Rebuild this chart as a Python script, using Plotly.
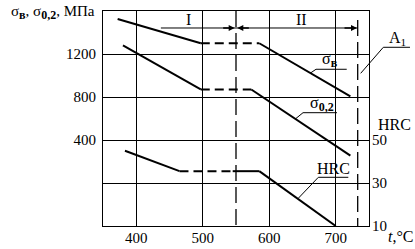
import plotly.graph_objects as go

# ---- data ----
x_ticks = [400, 500, 600, 700]
mpa_ticks = [0, 400, 800, 1200]
mpa_tick_text = ["", "400", "800", "1200"]
hrc_ticks = [10, 30, 50]

sigma_b_t = [372, 497, 585, 722]
sigma_b = [1525, 1300, 1300, 805]

sigma_02_t = [380, 497, 573, 722]
sigma_02 = [1280, 870, 870, 255]

hrc_t = [383, 465, 545, 585, 700]
hrc = [45, 35.5, 35.5, 35.5, 10]

t_boundary = 550   # boundary between zones I and II
t_A1 = 733         # A1 temperature
zone_labels = ["I", "II"]
zone_label_t = [478, 649]

# segment styles (index of dashed segments)
dashed_b = [1]
dashed_02 = [1]
dashed_hrc = [1]

FONT = "Liberation Serif, Times New Roman, DejaVu Serif, serif"
fig = go.Figure()


def add_curve(ts, vs, dashed, yaxis="y"):
    for i in range(len(ts) - 1):
        fig.add_trace(go.Scatter(
            x=ts[i:i + 2], y=vs[i:i + 2], mode="lines", yaxis=yaxis,
            line=dict(color="black", width=2,
                      dash="9px,5px" if i in dashed else "solid"),
            showlegend=False, hoverinfo="skip"))


add_curve(sigma_b_t, sigma_b, dashed_b)
add_curve(sigma_02_t, sigma_02, dashed_02)
add_curve(hrc_t, hrc, dashed_hrc, yaxis="y2")

shapes = []
# vertical dashed lines
shapes.append(dict(type="line", xref="x", yref="y", x0=t_boundary, x1=t_boundary,
                   y0=1600, y1=-400, line=dict(color="black", width=1.3, dash="16px,6px")))
shapes.append(dict(type="line", xref="x", yref="y", x0=t_A1, x1=t_A1,
                   y0=1516, y1=-400, line=dict(color="black", width=1.3, dash="16px,6px")))
# zone band line
shapes.append(dict(type="line", xref="x", yref="y", x0=437, x1=t_A1, y0=1442, y1=1442,
                   line=dict(color="black", width=1)))


def leader(pts, xref="x", yref="y"):
    for (a, b), (c, d) in zip(pts[:-1], pts[1:]):
        shapes.append(dict(type="line", xref=xref, yref=yref, x0=a, y0=b, x1=c, y1=d,
                           line=dict(color="black", width=1)))


leader([(661.3, 1020), (670.3, 1058), (716.5, 1058)])
leader([(638.7, 593), (650.8, 654), (701.9, 654)])
leader([(643.7, 22.9), (673.8, 32.65), (718.9, 32.65)], yref="y2")
leader([(0.9688, 0.7102), (1.0538, 0.8312), (1.1541, 0.8312)], xref="paper", yref="paper")


def sub(s, size=12):
    return f"<sub><span style='font-size:{size}px'><b>{s}</b></span></sub>"


ann = []
tf = dict(family=FONT, size=16, color="black")
for lab, t in zip(zone_labels, zone_label_t):
    ann.append(dict(x=t, y=1519, xref="x", yref="y", text=lab, showarrow=False,
                    font=dict(family=FONT, size=16, color="black"),
                    xanchor="center", yanchor="middle"))
# arrows
for xh, ax in [(t_boundary - 2, -13), (t_boundary + 2, 13), (t_A1 - 1, -14)]:
    ann.append(dict(x=xh, y=1442, xref="x", yref="y", ax=ax, ay=0, text="",
                    showarrow=True, arrowhead=2, arrowsize=0.8, arrowwidth=1.5,
                    arrowcolor="black", standoff=0))
# curve labels
ann.append(dict(x=692, y=1058, xref="x", yref="y", text="σ" + sub("в"),
                showarrow=False, font=tf, xanchor="center", yanchor="bottom", yshift=-3))
ann.append(dict(x=679, y=654, xref="x", yref="y", text="σ" + sub("0,2"),
                showarrow=False, font=tf, xanchor="center", yanchor="bottom", yshift=-3))
ann.append(dict(x=697, y=32.65, xref="x", yref="y2", text="HRC",
                showarrow=False, font=dict(family=FONT, size=16, color="black"),
                xanchor="center", yanchor="bottom", yshift=-2))
ann.append(dict(x=1.107, y=0.8312, xref="paper", yref="paper", text="A<sub>1</sub>",
                showarrow=False, font=dict(family=FONT, size=16, color="black"),
                xanchor="center", yanchor="bottom", yshift=-3))
# axis titles
ann.append(dict(x=-0.0226, y=0.995, xref="paper", yref="paper",
                text="σ" + sub("в") + ", σ" + sub("0,2") + ", МПа",
                showarrow=False, font=dict(family=FONT, size=15, color="black"),
                xanchor="right", yanchor="middle"))
ann.append(dict(x=1.0977, y=0.474, xref="paper", yref="paper", text="HRC",
                showarrow=False, font=dict(family=FONT, size=16, color="black"),
                xanchor="center", yanchor="middle"))
ann.append(dict(x=1.12, y=-0.051, xref="paper", yref="paper", text="<i>t</i>,°C",
                showarrow=False, font=dict(family=FONT, size=16, color="black"),
                xanchor="center", yanchor="middle"))

tick_font = dict(family=FONT, size=15, color="black")
fig.update_layout(
    template="none",
    width=415, height=249, margin=dict(l=103, r=46, t=11, b=23, pad=0),
    paper_bgcolor="white", plot_bgcolor="white",
    font=dict(family=FONT, size=15, color="black"),
    shapes=shapes, annotations=ann, showlegend=False,
    xaxis=dict(range=[350, 750], tickvals=x_ticks, showgrid=True, gridcolor="black",
               gridwidth=1, zeroline=False, showline=True, linecolor="black",
               linewidth=1, mirror=True, ticks="", automargin=False, fixedrange=True,
               tickfont=tick_font, ticklabelstandoff=-2),
    yaxis=dict(range=[-400, 1600], tickvals=mpa_ticks, ticktext=mpa_tick_text,
               showgrid=True, gridcolor="black", gridwidth=1, zeroline=False,
               showline=True, linecolor="black", linewidth=1, mirror=True, ticks="",
               ticklabelstandoff=3, automargin=False, tickfont=tick_font),
    yaxis2=dict(range=[10, 110], tickvals=hrc_ticks, overlaying="y", side="right",
                showgrid=False, zeroline=False, showline=False, ticks="",
                ticklabelstandoff=2, automargin=False, tickfont=tick_font),
)

fig.write_html("out.html")
